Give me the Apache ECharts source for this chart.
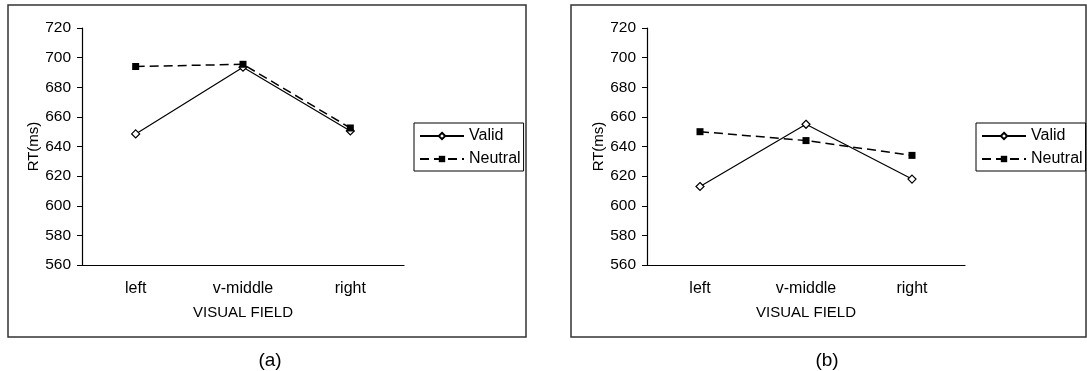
<!DOCTYPE html>
<html>
<head>
<meta charset="utf-8">
<script src="https://cdn.jsdelivr.net/npm/echarts@6/dist/echarts.min.js"></script>
<style>
html,body{margin:0;padding:0;background:#fff;}
#chart{width:1087px;height:371px;}
</style>
</head>
<body>
<div id="chart"></div>
<script>
const categories = ['left', 'v-middle', 'right'];
const validA = [648.5, 693.5, 650.5];
const neutralA = [694, 695.5, 652.5];
const validB = [613, 655, 618];
const neutralB = [650, 644, 634];
const yMin = 560, yMax = 720, yStep = 20;
const panelLabels = ['(a)', '(b)'];
const seriesNames = ['Valid', 'Neutral'];
const xName = 'VISUAL FIELD';
const yName = 'RT(ms)';

const FONT = '"Liberation Sans", Arial, sans-serif';
const chart = echarts.init(document.getElementById('chart'), null, {renderer: 'canvas'});

const grids = [
  {left: 82, top: 28, width: 322, height: 237},
  {left: 647, top: 28, width: 318, height: 237}
];

function xAxis(i) {
  return {
    type: 'category', gridIndex: i, data: categories, boundaryGap: true,
    name: xName, nameLocation: 'middle', nameGap: 40,
    nameTextStyle: {fontFamily: FONT, fontSize: 15, color: '#000'},
    axisLine: {lineStyle: {color: '#000', width: 1.2}},
    axisTick: {show: false},
    axisLabel: {fontFamily: FONT, fontSize: 16, color: '#000', margin: 16}
  };
}
function yAxis(i) {
  return {
    type: 'value', gridIndex: i, min: yMin, max: yMax, interval: yStep,
    name: yName, nameLocation: 'middle', nameGap: 41, nameRotate: 90,
    nameTextStyle: {fontFamily: FONT, fontSize: 15, color: '#000'},
    axisLine: {show: true, lineStyle: {color: '#000', width: 1.2}},
    axisTick: {show: true, length: 5, lineStyle: {color: '#000'}},
    splitLine: {show: false},
    axisLabel: {fontFamily: FONT, fontSize: 15.5, color: '#000', margin: 11}
  };
}
function validSeries(i, data) {
  return {
    name: seriesNames[0], type: 'line', xAxisIndex: i, yAxisIndex: i, data: data,
    symbol: 'diamond', symbolSize: 8, showAllSymbol: true,
    lineStyle: {color: '#000', width: 1.2, type: 'solid'},
    itemStyle: {color: '#fff', borderColor: '#000', borderWidth: 1.2},
    animation: false, z: 2
  };
}
function neutralSeries(i, data) {
  return {
    name: seriesNames[1], type: 'line', xAxisIndex: i, yAxisIndex: i, data: data,
    symbol: 'rect', symbolSize: 7,
    lineStyle: {color: '#000', width: 1.5, type: [9, 5]},
    itemStyle: {color: '#000', borderColor: '#000', borderWidth: 0},
    animation: false, z: 3
  };
}
function legend(left) {
  return {
    data: seriesNames, orient: 'vertical', left: left, top: 123,
    itemWidth: 44, itemHeight: 8, itemGap: 7,
    padding: [5, 3, 4, 5],
    borderColor: '#000', borderWidth: 1,
    textStyle: {fontFamily: FONT, fontSize: 16, color: '#000', lineHeight: 16},
    selectedMode: false
  };
}

chart.setOption({
  animation: false,
  backgroundColor: '#fff',
  grid: grids,
  xAxis: [xAxis(0), xAxis(1)],
  yAxis: [yAxis(0), yAxis(1)],
  legend: [legend(414), legend(976)],
  title: [
    {text: panelLabels[0], left: 265, top: 346, textAlign: 'center',
     textStyle: {fontFamily: FONT, fontSize: 19, fontWeight: 'normal', color: '#000'}},
    {text: panelLabels[1], left: 822, top: 346, textAlign: 'center',
     textStyle: {fontFamily: FONT, fontSize: 19, fontWeight: 'normal', color: '#000'}}
  ],
  graphic: [
    {type: 'rect', shape: {x: 8, y: 5, width: 518, height: 332},
     style: {fill: 'none', stroke: '#333', lineWidth: 1.5}, silent: true},
    {type: 'rect', shape: {x: 571, y: 5, width: 515, height: 332},
     style: {fill: 'none', stroke: '#333', lineWidth: 1.5}, silent: true}
  ],
  series: [
    validSeries(0, validA), neutralSeries(0, neutralA),
    validSeries(1, validB), neutralSeries(1, neutralB)
  ]
});
</script>
</body>
</html>
